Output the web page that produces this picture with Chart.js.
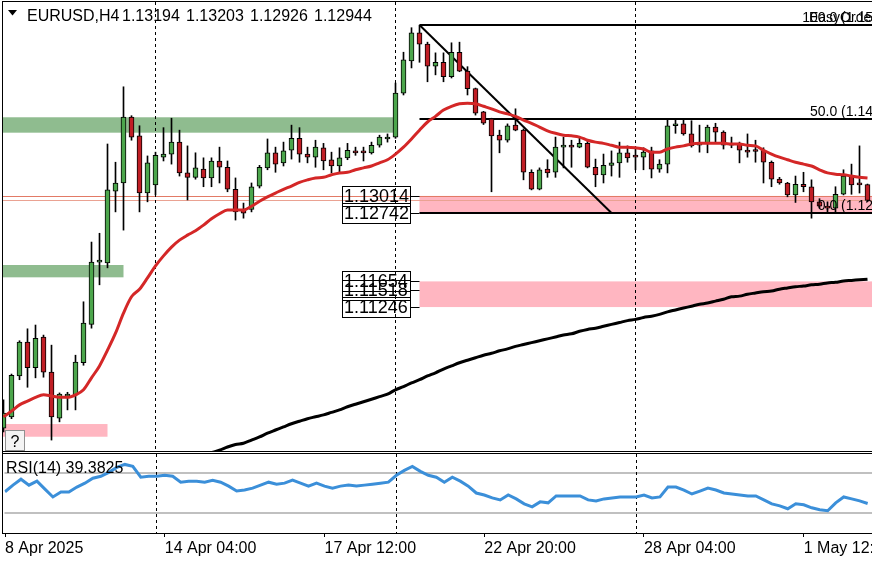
<!DOCTYPE html>
<html>
<head>
<meta charset="utf-8">
<script src="https://cdn.jsdelivr.net/npm/chart.js@4.4.1/dist/chart.umd.min.js"></script>
<style>
    body { margin: 0; background: #fff; }
    #wrap { position: relative; width: 872px; height: 562px; overflow: hidden; background: #fff; }
    canvas { position: absolute; }
    #main { left: 3px; top: 2px; }
    #rsi { left: 3px; top: 454px; }
    .rule { position: absolute; background: #000; }
</style>
</head>
<body>
<div id="wrap">
    <canvas id="main" width="960" height="449"></canvas>
    <canvas id="rsi" width="960" height="108"></canvas>
    <div class="rule" style="left:2px;top:1px;width:1px;height:533px"></div>
    <div class="rule" style="left:2px;top:1px;width:870px;height:1px"></div>
    <div class="rule" style="left:2px;top:451px;width:870px;height:1px"></div>
    <div class="rule" style="left:2px;top:453px;width:870px;height:1px"></div>
    <div class="rule" style="left:2px;top:533px;width:870px;height:1px"></div>
</div>
<script>
// EURUSD H4, bars from 8 Apr 2025 20:00
const opens = [
    1.0932, 1.0950, 1.1015, 1.1069, 1.1028, 1.1077, 1.1021, 1.0948, 1.0983, 1.0985,
    1.1036, 1.1097, 1.1196, 1.1195, 1.1309, 1.1322, 1.1427, 1.1397, 1.1306, 1.1319,
    1.1363, 1.1368, 1.1387, 1.1338, 1.1331, 1.1344, 1.1330, 1.1357, 1.1347, 1.1312,
    1.1280, 1.1280, 1.1317, 1.1346, 1.1370, 1.1354, 1.1374, 1.1393, 1.1368, 1.1363,
    1.1378, 1.1359, 1.1349, 1.1362, 1.1373, 1.1371, 1.1370, 1.1382, 1.1392, 1.1395,
    1.1465, 1.1516, 1.1561, 1.1543, 1.1508, 1.1514, 1.1491, 1.1530, 1.1500, 1.1472,
    1.1435, 1.1424, 1.1398, 1.1390, 1.1414, 1.1406, 1.1339, 1.1312, 1.1344, 1.1339,
    1.1379, 1.1381, 1.1379, 1.1385, 1.1347, 1.1335, 1.1350, 1.1354, 1.1370, 1.1365,
    1.1363, 1.1373, 1.1344, 1.1352, 1.1413, 1.1416, 1.1400, 1.1382, 1.1385, 1.1411,
    1.1403, 1.1382, 1.1385, 1.1374, 1.1373, 1.1374, 1.1355, 1.1328, 1.1322, 1.1303,
    1.1320, 1.1316, 1.1292, 1.1285, 1.1282, 1.1304, 1.1333, 1.1320, 1.13194,
];
const highs = [
    1.0977, 1.1018, 1.1071, 1.1090, 1.1096, 1.1080, 1.1064, 1.0988, 1.0989, 1.1048,
    1.1133, 1.1228, 1.1242, 1.1384, 1.1355, 1.1475, 1.1429, 1.1413, 1.1365, 1.1371,
    1.1410, 1.1425, 1.1406, 1.1381, 1.1370, 1.1362, 1.1362, 1.1379, 1.1357, 1.1330,
    1.1290, 1.1322, 1.1350, 1.1392, 1.1379, 1.1387, 1.1414, 1.1410, 1.1379, 1.1390,
    1.1385, 1.1371, 1.1378, 1.1385, 1.1379, 1.1379, 1.1387, 1.1398, 1.1400, 1.1481,
    1.1530, 1.1569, 1.1573, 1.1546, 1.1529, 1.1529, 1.1545, 1.1546, 1.1507, 1.1473,
    1.1436, 1.1425, 1.1406, 1.1416, 1.1440, 1.1408, 1.1343, 1.1346, 1.1359, 1.1395,
    1.1395, 1.1390, 1.1395, 1.1389, 1.1360, 1.1368, 1.1373, 1.1387, 1.1381, 1.1379,
    1.1378, 1.1379, 1.1359, 1.1422, 1.1422, 1.1422, 1.1421, 1.1414, 1.1414, 1.1417,
    1.1405, 1.1395, 1.1387, 1.1400, 1.1390, 1.1378, 1.1357, 1.1331, 1.1323, 1.1333,
    1.1339, 1.1327, 1.1297, 1.1292, 1.1316, 1.1343, 1.1352, 1.1381, 1.13203,
];
const lows = [
    1.0926, 1.0947, 1.1009, 1.0997, 1.1012, 1.1013, 1.0913, 1.0942, 1.0961, 1.0961,
    1.1032, 1.1091, 1.1160, 1.1187, 1.1276, 1.1247, 1.1390, 1.1276, 1.1292, 1.1303,
    1.1357, 1.1352, 1.1333, 1.1295, 1.1328, 1.1316, 1.1316, 1.1322, 1.1308, 1.1263,
    1.1266, 1.1276, 1.1314, 1.1343, 1.1339, 1.1349, 1.1360, 1.1355, 1.1354, 1.1347,
    1.1343, 1.1338, 1.1338, 1.1359, 1.1366, 1.1357, 1.1368, 1.1379, 1.1387, 1.1393,
    1.1462, 1.1505, 1.1514, 1.1483, 1.1494, 1.1483, 1.1489, 1.1499, 1.1462, 1.1430,
    1.1415, 1.1308, 1.1370, 1.1387, 1.1405, 1.1327, 1.1311, 1.1311, 1.1331, 1.1331,
    1.1346, 1.1347, 1.1378, 1.1346, 1.1316, 1.1322, 1.1333, 1.1331, 1.1355, 1.1343,
    1.1343, 1.1330, 1.1339, 1.1338, 1.1401, 1.1398, 1.1379, 1.1371, 1.1370, 1.1385,
    1.1376, 1.1378, 1.1354, 1.1363, 1.1355, 1.1322, 1.1316, 1.1320, 1.1300, 1.1291,
    1.1308, 1.1266, 1.1282, 1.1276, 1.1276, 1.1303, 1.1304, 1.1306, 1.12926,
];
const closes = [
    1.0956, 1.1016, 1.1069, 1.1028, 1.1075, 1.1021, 1.0950, 1.0986, 1.0985, 1.1037,
    1.1099, 1.1196, 1.1198, 1.1311, 1.1322, 1.1427, 1.1395, 1.1306, 1.1354, 1.1366,
    1.1368, 1.1387, 1.1338, 1.1331, 1.1346, 1.1330, 1.1357, 1.1347, 1.1312, 1.1276,
    1.1274, 1.1316, 1.1347, 1.1370, 1.1352, 1.1373, 1.1393, 1.1368, 1.1363, 1.1379,
    1.1357, 1.1349, 1.1362, 1.1374, 1.1370, 1.1370, 1.1382, 1.1395, 1.1395, 1.1465,
    1.1518, 1.1561, 1.1543, 1.1508, 1.1514, 1.1491, 1.1530, 1.1500, 1.1472, 1.1433,
    1.1417, 1.1397, 1.1390, 1.1413, 1.1406, 1.1339, 1.1312, 1.1343, 1.1338, 1.1379,
    1.1381, 1.1379, 1.1385, 1.1347, 1.1335, 1.1350, 1.1354, 1.1370, 1.1362, 1.1363,
    1.1371, 1.1344, 1.1352, 1.1413, 1.1416, 1.1400, 1.1381, 1.1385, 1.1411, 1.1403,
    1.1382, 1.1384, 1.1374, 1.1371, 1.1372, 1.1355, 1.1328, 1.1322, 1.1303, 1.1320,
    1.1316, 1.1292, 1.1285, 1.1282, 1.1304, 1.1333, 1.1319, 1.1319, 1.12944,
];

// moving averages as drawn on the chart
const fastMA = [
    1.0950, 1.0959, 1.0969, 1.0975, 1.0981, 1.0985, 1.0983, 1.0981, 1.0981, 1.0985,
    1.0993, 1.1012, 1.1031, 1.1056, 1.1083, 1.1115, 1.1141, 1.1153, 1.1171, 1.1190,
    1.1206, 1.1220, 1.1231, 1.1239, 1.1246, 1.1255, 1.1265, 1.1273, 1.1279, 1.1279,
    1.1279, 1.1285, 1.1293, 1.1300, 1.1306, 1.1312, 1.1317, 1.1323, 1.1327, 1.1330,
    1.1331, 1.1335, 1.1338, 1.1339, 1.1343, 1.1346, 1.1349, 1.1354, 1.1359, 1.1368,
    1.1379, 1.1392, 1.1406, 1.1419, 1.1428, 1.1438, 1.1444, 1.1448, 1.1449, 1.1448,
    1.1444, 1.1440, 1.1435, 1.1432, 1.1428, 1.1422, 1.1417, 1.1411, 1.1405, 1.1401,
    1.1398, 1.1397, 1.1395, 1.1390, 1.1387, 1.1385, 1.1382, 1.1379, 1.1379, 1.1378,
    1.1376, 1.1371, 1.1371, 1.1376, 1.1379, 1.1381, 1.1384, 1.1385, 1.1385, 1.1385,
    1.1385, 1.1384, 1.1384, 1.1382, 1.1381, 1.1374, 1.1368, 1.1363, 1.1359, 1.1355,
    1.1352, 1.1349, 1.1343, 1.1338, 1.1336, 1.1335, 1.1333, 1.1331, 1.1330,
];
const slowMAStart = 25;
const slowMA = [
    1.0889, 1.0893, 1.0897, 1.0902, 1.0906, 1.0908, 1.0913, 1.0918, 1.0924, 1.0929,
    1.0934, 1.0939, 1.0943, 1.0947, 1.0950, 1.0953, 1.0957, 1.0961, 1.0966, 1.0970,
    1.0974, 1.0978, 1.0982, 1.0986, 1.0993, 1.0998, 1.1004, 1.1009, 1.1015, 1.1020,
    1.1026, 1.1031, 1.1036, 1.1040, 1.1044, 1.1048, 1.1051, 1.1055, 1.1058, 1.1062,
    1.1065, 1.1068, 1.1071, 1.1074, 1.1077, 1.1080, 1.1082, 1.1086, 1.1089, 1.1091,
    1.1094, 1.1097, 1.1100, 1.1103, 1.1105, 1.1108, 1.1110, 1.1113, 1.1117, 1.1120,
    1.1123, 1.1126, 1.1129, 1.1131, 1.1134, 1.1137, 1.1141, 1.1142, 1.1145, 1.1147,
    1.1149, 1.1150, 1.1153, 1.1155, 1.1157, 1.1158, 1.1160, 1.1161, 1.1163, 1.1164,
    1.1166, 1.1167, 1.1168, 1.1169,
];

const rsiValues = [
    51.3, 58, 64, 58, 62, 54, 46, 51, 51, 56,
    60, 65, 67, 71, 76, 79, 77, 66, 67, 67,
    68, 67, 61, 62, 62, 61, 63, 61, 57, 52,
    53, 55, 58, 61, 59, 60, 63, 60, 57, 60,
    57, 55, 57, 58, 57, 58, 59, 60, 61, 68,
    73, 77, 72, 68, 66, 61, 66, 62, 57, 50,
    48, 45, 43, 48, 44, 39, 36, 41, 40, 47,
    47, 47, 47, 43, 42, 44, 45, 46, 46, 46,
    48, 45, 46, 56, 56, 53, 49, 52, 55, 53,
    50, 49, 48, 47, 47, 43, 39, 37, 34, 39,
    38, 35, 33, 32, 40, 46, 44, 42, 39.3825,
];
const rsiLevels = [70, 30];

const tickBars = [0, 20, 40, 60, 80, 100];
const tickLabels = ["8 Apr 2025", "14 Apr 04:00", "17 Apr 12:00", "22 Apr 20:00", "28 Apr 04:00", "1 May 12:00"];
const weekStarts = [19, 49, 79];

// [fromBar, toBar, low, high]; null = chart edge
const greenZones = [
    [null, 49, 1.1402, 1.14265],
    [null, 15, 1.11719, 1.11915],
];
const pinkZones = [
    [null, 13, 1.09183, 1.09385],
    [52, null, 1.12742, 1.13014],
    [52, null, 1.11246, 1.11654],
];

const fibStartBar = 52;
const fibTrendEndBar = 76;
const fibLevels = ["100.0", "50.0", "0.0"];
const fibPrices = [1.15733, 1.14238, 1.12742];
const boxPrices = [1.13014, 1.12742, 1.11654, 1.11518, 1.11246];
const levelLine = 1.13014;
const bidPrice = 1.12944;

const headerValues = [1.13194, 1.13203, 1.12926, 1.12944];

const xMin = -0.0625;
const xMax = xMin + 960 / 8;
const priceMax = 1.16099;
const priceMin = 1.08956;
const rsiMax = 89.6;
const rsiMin = 9.4;

const FONT = "'Liberation Sans', Arial, sans-serif";
const UP = "#4ca64c";
const DOWN = "#c01e25";

const bars = opens.map((_, i) => i);

function dashedWeeks(ctx, x, top, bottom) {
    ctx.save();
    ctx.strokeStyle = "#000";
    ctx.lineWidth = 1;
    ctx.setLineDash([3, 3]);
    weekStarts.forEach((b) => {
        const px = Math.floor(x.getPixelForValue(b)) + 0.5;
        ctx.beginPath();
        ctx.moveTo(px, top);
        ctx.lineTo(px, bottom);
        ctx.stroke();
    });
    ctx.restore();
}

const mainDecor = {
    id: "mainDecor",
    beforeDatasetsDraw(chart) {
        const { ctx, chartArea: a, scales: { x, y } } = chart;
        ctx.save();
        const zone = (z, color) => {
            const left = z[0] === null ? a.left : x.getPixelForValue(z[0]);
            const right = z[1] === null ? a.right : x.getPixelForValue(z[1]);
            const top = y.getPixelForValue(z[3]);
            const bottom = y.getPixelForValue(z[2]);
            ctx.fillStyle = color;
            ctx.fillRect(left, top, right - left, bottom - top);
        };
        greenZones.forEach((z) => zone(z, "#8fbc8f"));
        pinkZones.forEach((z) => zone(z, "#ffb6c1"));

        // horizontal level and bid line
        ctx.lineWidth = 1;
        ctx.strokeStyle = "#e27a66";
        let ly = Math.round(y.getPixelForValue(levelLine)) + 0.5;
        ctx.beginPath(); ctx.moveTo(a.left, ly); ctx.lineTo(a.right, ly); ctx.stroke();
        ctx.strokeStyle = "#eaa292";
        ly = Math.round(y.getPixelForValue(bidPrice)) + 0.5;
        ctx.beginPath(); ctx.moveTo(a.left, ly); ctx.lineTo(a.right, ly); ctx.stroke();

        // fibonacci levels and trend line
        const fx = x.getPixelForValue(fibStartBar);
        ctx.strokeStyle = "#000";
        ctx.lineWidth = 2;
        fibPrices.forEach((p) => {
            const fy = Math.round(y.getPixelForValue(p));
            ctx.beginPath(); ctx.moveTo(fx, fy); ctx.lineTo(a.right, fy); ctx.stroke();
        });
        ctx.beginPath();
        ctx.moveTo(fx, y.getPixelForValue(fibPrices[0]));
        ctx.lineTo(x.getPixelForValue(fibTrendEndBar), y.getPixelForValue(fibPrices[2]));
        ctx.stroke();
        ctx.restore();

        dashedWeeks(ctx, x, a.top, a.bottom);
    },
    afterDatasetsDraw(chart) {
        const { ctx, scales: { x, y } } = chart;
        ctx.save();
        const fx = x.getPixelForValue(fibStartBar);

        // price label boxes
        ctx.strokeStyle = "#000";
        ctx.lineWidth = 1;
        ctx.fillStyle = "#000";
        ctx.font = "18px " + FONT;
        ctx.textBaseline = "middle";
        ctx.textAlign = "left";
        boxPrices.forEach((p) => {
            const cy = Math.round(y.getPixelForValue(p));
            const right = Math.round(fx) - 10;
            const left = right - 68;
            ctx.strokeRect(left + 0.5, cy - 10 + 0.5, 68, 20);
            ctx.beginPath(); ctx.moveTo(right, cy + 0.5); ctx.lineTo(fx, cy + 0.5); ctx.stroke();
            ctx.fillText(p.toFixed(5), left + 2, cy + 1);
        });

        // fibo level captions, right aligned past the visible edge
        ctx.font = "14px " + FONT;
        ctx.textBaseline = "alphabetic";
        ctx.textAlign = "right";
        fibPrices.forEach((p, i) => {
            ctx.fillText(fibLevels[i] + " (" + p.toFixed(5) + ")", 898, y.getPixelForValue(p) - 3);
        });
        ctx.textAlign = "left";
        ctx.fillText("EasyOrder", 806, y.getPixelForValue(fibPrices[0]) - 3);

        // header
        ctx.beginPath();
        ctx.moveTo(5, 8); ctx.lineTo(14, 8); ctx.lineTo(9.5, 13.5); ctx.closePath();
        ctx.fill();
        ctx.font = "16px " + FONT;
        ctx.fillText("EURUSD,H4", 24, 19);
        headerValues.forEach((v, i) => ctx.fillText(v.toFixed(5), 119 + i * 64, 19));

        // one-click help button
        ctx.fillStyle = "#f4f4f4";
        ctx.fillRect(2.5, 428.5, 19, 20);
        ctx.strokeStyle = "#909090";
        ctx.strokeRect(2.5, 428.5, 19, 20);
        ctx.fillStyle = "#000";
        ctx.textAlign = "center";
        ctx.fillText("?", 12, 445);
        ctx.restore();
    },
};

const rsiDecor = {
    id: "rsiDecor",
    beforeDatasetsDraw(chart) {
        const { ctx, chartArea: a, scales: { x, y } } = chart;
        ctx.save();
        ctx.strokeStyle = "#c0c0c0";
        ctx.lineWidth = 2;
        rsiLevels.forEach((v) => {
            const ly = Math.round(y.getPixelForValue(v));
            ctx.beginPath(); ctx.moveTo(a.left, ly); ctx.lineTo(a.right, ly); ctx.stroke();
        });
        ctx.restore();
        dashedWeeks(ctx, x, a.top, a.bottom);
    },
    afterDatasetsDraw(chart) {
        const { ctx } = chart;
        ctx.save();
        ctx.fillStyle = "#000";
        ctx.font = "16px " + FONT;
        ctx.textBaseline = "alphabetic";
        ctx.fillText("RSI(14) " + rsiValues[rsiValues.length - 1].toFixed(4), 3, 19);
        ctx.restore();
    },
};

new Chart(document.getElementById("main"), {
    type: "bar",
    data: {
        datasets: [
            {
                type: "line",
                label: "MA fast",
                data: bars.map((i) => ({ x: i, y: fastMA[i] })),
                borderColor: "#d42727",
                borderWidth: 3,
                pointRadius: 0,
                cubicInterpolationMode: "monotone",
                order: 0,
            },
            {
                type: "line",
                label: "MA slow",
                data: slowMA.map((v, k) => ({ x: slowMAStart + k, y: v })),
                borderColor: "#000",
                borderWidth: 3,
                pointRadius: 0,
                cubicInterpolationMode: "monotone",
                order: 0,
            },
            {
                label: "body",
                data: bars.map((i) => ({ x: i, y: [opens[i], closes[i]] })),
                backgroundColor: bars.map((i) => (closes[i] >= opens[i] ? UP : DOWN)),
                borderColor: "#000",
                borderWidth: 1,
                borderSkipped: false,
                barThickness: 5,
                minBarLength: 2,
                grouped: false,
                order: 1,
            },
            {
                label: "wick",
                data: bars.map((i) => ({ x: i, y: [lows[i], highs[i]] })),
                backgroundColor: "#000",
                barThickness: 1,
                grouped: false,
                order: 2,
            },
        ],
    },
    options: {
        responsive: false,
        animation: false,
        layout: { padding: 0 },
        plugins: { legend: { display: false }, tooltip: { enabled: false } },
        scales: {
            x: { type: "linear", display: false, offset: false, min: xMin, max: xMax },
            y: { display: false, min: priceMin, max: priceMax },
        },
    },
    plugins: [mainDecor],
});

new Chart(document.getElementById("rsi"), {
    type: "line",
    data: {
        datasets: [
            {
                label: "RSI(14)",
                data: bars.map((i) => ({ x: i, y: rsiValues[i] })),
                borderColor: "#3b8fd9",
                borderWidth: 3,
                pointRadius: 0,
            },
        ],
    },
    options: {
        responsive: false,
        animation: false,
        layout: { padding: 0 },
        plugins: { legend: { display: false }, tooltip: { enabled: false } },
        scales: {
            x: {
                type: "linear",
                offset: false,
                min: xMin,
                max: xMax,
                afterBuildTicks: (s) => {
                    s.ticks = tickBars.map((v) => ({ value: v }));
                },
                afterFit: (s) => {
                    s.height = 29;
                },
                ticks: {
                    align: "start",
                    autoSkip: false,
                    maxRotation: 0,
                    padding: 2,
                    color: "#000",
                    font: { family: FONT, size: 16 },
                    callback: (v) => tickLabels[tickBars.indexOf(v)],
                },
                grid: { drawOnChartArea: false, drawTicks: true, tickLength: 4, color: "#000" },
                border: { display: false },
            },
            y: { display: false, min: rsiMin, max: rsiMax },
        },
    },
    plugins: [rsiDecor],
});
</script>
</body>
</html>
